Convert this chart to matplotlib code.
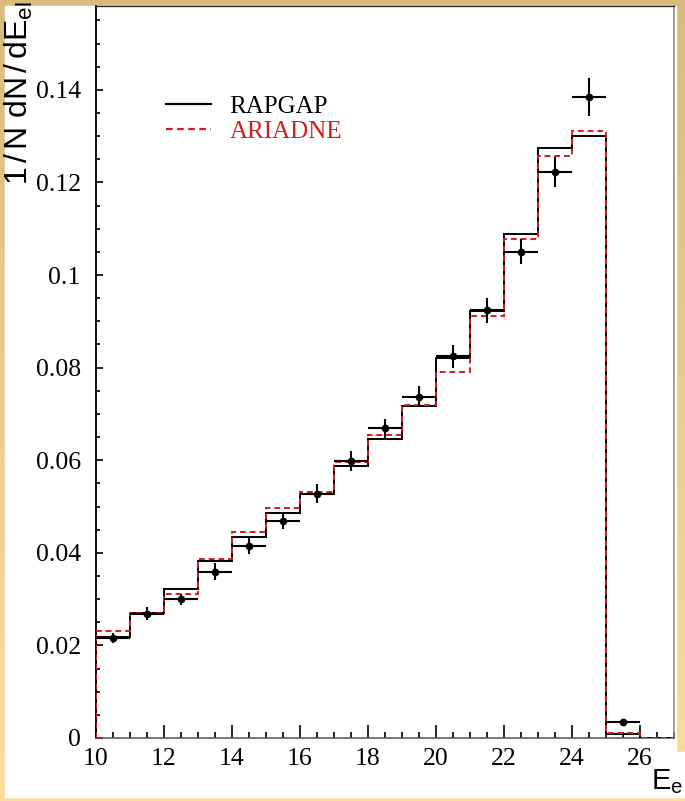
import numpy as np
import matplotlib
matplotlib.use('Agg')
import matplotlib.pyplot as plt
from matplotlib.ticker import MultipleLocator, FormatStrFormatter
from matplotlib.patches import Rectangle

# bin edges of the electron energy histogram
edges = np.arange(10, 28, 1)
# MC predictions per bin
rapgap = [0.0218, 0.0270, 0.0322, 0.0383, 0.0435, 0.0485, 0.0528, 0.0587, 0.0645,
          0.0717, 0.0821, 0.0923, 0.1089, 0.1274, 0.1301, 0.0009, 0.0]
ariadne = [0.0231, 0.0270, 0.0311, 0.0386, 0.0446, 0.0497, 0.0531, 0.0596, 0.0654,
           0.0719, 0.0791, 0.0912, 0.1077, 0.1258, 0.1311, 0.0010, 0.0]
# data points at bin centres
e_data = [10.5, 11.5, 12.5, 13.5, 14.5, 15.5, 16.5, 17.5, 18.5,
          19.5, 20.5, 21.5, 22.5, 23.5, 24.5, 25.5]
data = [0.0216, 0.0268, 0.0300, 0.0359, 0.0415, 0.0469, 0.0528, 0.0598, 0.0669,
        0.0737, 0.0824, 0.0924, 0.1050, 0.1222, 0.1385, 0.0035]
err = [0.0011, 0.0014, 0.0012, 0.0018, 0.0018, 0.0018, 0.0020, 0.0022, 0.0021,
       0.0023, 0.0025, 0.0027, 0.0027, 0.0032, 0.0041, 0.0003]

W, H = 685, 801
red = '#d41c1c'
serif = 'Liberation Serif'

plt.rcParams['mathtext.fontset'] = 'custom'
plt.rcParams['mathtext.rm'] = 'Liberation Sans'
plt.rcParams['mathtext.it'] = 'Liberation Sans:italic'
plt.rcParams['mathtext.bf'] = 'Liberation Sans:bold'

fig = plt.figure(figsize=(W / 100, H / 100), dpi=100)

# tan gradient frame around the white page
bg = fig.add_axes([0, 0, 1, 1], zorder=-10)
grad = np.linspace(0, 1, 256).reshape(-1, 1)
cmap = matplotlib.colors.LinearSegmentedColormap.from_list('frame', ['#d9bc7c', '#fddca0'])
bg.imshow(grad, aspect='auto', cmap=cmap, extent=[0, 1, 0, 1], origin='upper')
bg.add_patch(Rectangle((5 / W, 4 / H), (676 - 5) / W, (795 - 4) / H, color='white'))
bg.add_patch(Rectangle((650 / W, 4 / H), 1, (45) / H, color='white'))
bg.set_xlim(0, 1)
bg.set_ylim(0, 1)
bg.axis('off')

ax = fig.add_axes([96 / W, 1 - 738 / H, 578 / W, 732 / H])
ax.set_facecolor('none')

ax.stairs(rapgap, edges, baseline=0, color='black', lw=1.4, zorder=3)
ax.stairs(ariadne, edges, baseline=0, color=red, lw=1.4, ls=(0, (3, 2)), zorder=4)
ax.errorbar(e_data, data, xerr=0.5, yerr=err, fmt='o', color='black', ms=4.5,
            elinewidth=1.5, capsize=0, zorder=5)

ax.set_xlim(10, 27)
ax.set_ylim(0, 0.1581)

ax.xaxis.set_major_locator(MultipleLocator(2))
ax.xaxis.set_minor_locator(MultipleLocator(0.5))
ax.yaxis.set_major_locator(MultipleLocator(0.02))
ax.yaxis.set_minor_locator(MultipleLocator(0.005))
ax.yaxis.set_major_formatter(FormatStrFormatter('%g'))
ax.xaxis.set_major_formatter(FormatStrFormatter('%g'))

ax.tick_params(axis='x', which='major', direction='in', length=9.5, width=1.2,
               pad=7, labelsize=18.5)
ax.tick_params(axis='x', which='minor', direction='in', length=4.5, width=1.2)
ax.tick_params(axis='y', which='major', direction='in', length=5, width=1.2,
               pad=11, labelsize=18.5)
ax.tick_params(axis='y', which='minor', direction='in', length=2.7, width=1.2)
for lab in ax.get_xticklabels() + ax.get_yticklabels():
    lab.set_fontfamily(serif)

ax.spines['left'].set_color('black')
ax.spines['left'].set_linewidth(1.3)
ax.spines['top'].set_color('#222222')
ax.spines['top'].set_linewidth(0.9)
ax.spines['bottom'].set_color('#555555')
ax.spines['bottom'].set_linewidth(1.1)
ax.spines['right'].set_color('#888888')
ax.spines['right'].set_linewidth(1.1)

leg = ax.legend(['RAPGAP', 'ARIADNE'], loc='upper left', bbox_to_anchor=(0.121, 0.878),
                frameon=False, borderpad=0, borderaxespad=0, handlelength=1.8,
                handletextpad=0.75, labelspacing=0.1,
                prop={'family': serif, 'size': 18})
leg.get_texts()[1].set_color(red)
for h in leg.get_lines():
    h.set_linewidth(1.6)

fig.text(19 / W, 1 - 1 / H,
         r'1$\mathregular{\,/\,}$N dN$\mathregular{\,/\,}$dE$_{\mathregular{el}}$',
         rotation=90, ha='center', va='top', fontsize=23, family='Liberation Sans')
fig.text(683 / W, 1 - 796 / H, r'E$_{\mathregular{e}}$', ha='right', va='bottom',
         fontsize=21, family='Liberation Sans')

fig.savefig('out.png', dpi=100)
